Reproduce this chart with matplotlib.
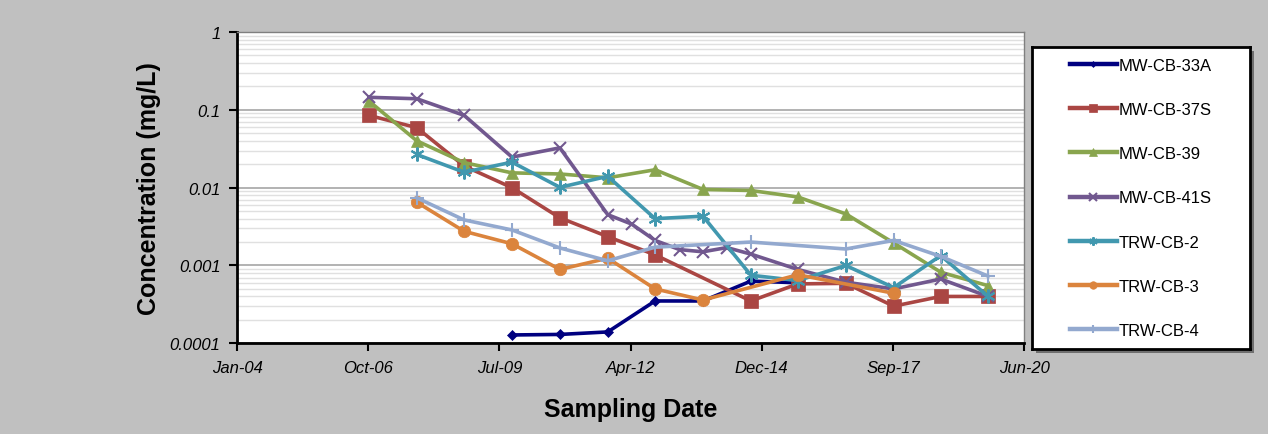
import matplotlib
matplotlib.use("Agg")
import matplotlib.pyplot as plt
import matplotlib.dates as mdates
import matplotlib.ticker as mticker
import pandas as pd
from matplotlib.patches import Rectangle

# sampling dates
d33a = ['2009-10-10', '2010-10-10', '2011-10-10', '2012-10-05', '2013-10-05', '2014-10-05', '2015-09-28']
v33a = [0.000128, 0.00013, 0.00014, 0.00035, 0.00035, 0.00063, 0.0006]

d37s = ['2006-10-15', '2007-10-15', '2008-10-10', '2009-10-10', '2010-10-10', '2011-10-10', '2012-10-05',
        '2014-10-05', '2015-09-28', '2016-09-28', '2017-09-28', '2018-09-22', '2019-09-18']
v37s = [0.085, 0.059, 0.019, 0.010, 0.0041, 0.00235, 0.00137, 0.00035, 0.00058, 0.00059, 0.0003, 0.0004, 0.0004]

d39 = ['2006-10-15', '2007-10-15', '2008-10-10', '2009-10-10', '2010-10-10', '2011-10-10', '2012-10-05',
       '2013-10-05', '2014-10-05', '2015-09-28', '2016-09-28', '2017-09-28', '2018-09-22', '2019-09-18']
v39 = [0.13, 0.04, 0.021, 0.0155, 0.015, 0.0134, 0.017, 0.0095, 0.0092, 0.0076, 0.0046, 0.00195, 0.00082, 0.00055]

d41s = ['2006-10-15', '2007-10-15', '2008-10-10', '2009-10-10', '2010-10-10', '2011-10-10', '2012-04-10',
        '2012-10-05', '2013-04-10', '2013-10-05', '2014-04-05', '2014-10-05', '2015-09-28', '2016-09-28',
        '2017-09-28', '2018-09-22', '2019-09-18']
v41s = [0.145, 0.139, 0.085, 0.0247, 0.0325, 0.0045, 0.0034, 0.0021, 0.0016, 0.0015, 0.0017, 0.0014,
        0.00089, 0.00061, 0.0005, 0.00067, 0.0004]

dcb2 = ['2007-10-15', '2008-10-10', '2009-10-10', '2010-10-10', '2011-10-10', '2012-10-05', '2013-10-05',
        '2014-10-05', '2015-09-28', '2016-09-28', '2017-09-28', '2018-09-22', '2019-09-18']
vcb2 = [0.0267, 0.0158, 0.0213, 0.0101, 0.014, 0.004, 0.0043, 0.00075, 0.00064, 0.001, 0.00052, 0.00134, 0.0004]

dcb3 = ['2007-10-15', '2008-10-10', '2009-10-10', '2010-10-10', '2011-10-10', '2012-10-05', '2013-10-05',
        '2015-09-28', '2017-09-28']
vcb3 = [0.0065, 0.00275, 0.0019, 0.00089, 0.00124, 0.0005, 0.00036, 0.00076, 0.00044]

dcb4 = ['2007-10-15', '2008-10-10', '2009-10-10', '2010-10-10', '2011-10-10', '2012-10-05', '2014-10-05',
        '2016-09-28', '2017-09-28', '2018-09-22', '2019-09-18']
vcb4 = [0.0074, 0.00385, 0.00286, 0.00168, 0.00115, 0.00172, 0.002, 0.00163, 0.0021, 0.00131, 0.00073]

names = ['MW-CB-33A', 'MW-CB-37S', 'MW-CB-39', 'MW-CB-41S', 'TRW-CB-2', 'TRW-CB-3', 'TRW-CB-4']
dates = [d33a, d37s, d39, d41s, dcb2, dcb3, dcb4]
values = [v33a, v37s, v39, v41s, vcb2, vcb3, vcb4]
colors = ['#000080', '#AA4643', '#89A54E', '#71588F', '#4198AF', '#DB843D', '#93A9CF']
markers = ['D', 's', '^', 'x', (6, 2, 0), 'o', '+']
msizes = [5, 10, 9, 9, 10, 9, 10]

fam = ['Liberation Sans', 'DejaVu Sans']
bg = '#c0c0c0'

fig = plt.figure(figsize=(12.68, 4.35), dpi=100, facecolor=bg)
ax = fig.add_axes([0.187, 0.2085, 0.6206, 0.7155])
ax.set_facecolor('white')

for n, d, v, c, m, s in zip(names, dates, values, colors, markers, msizes):
    ax.plot(pd.to_datetime(d), v, color=c, marker=m, markersize=s, lw=2.6,
            markeredgewidth=1.5 if m in ['x', '+', (6, 2, 0)] else 0.5,
            markeredgecolor=c, label=n)

ax.set_yscale('log')
ax.set_ylim(0.0001, 1)
ax.set_yticks([0.0001, 0.001, 0.01, 0.1, 1])
ax.yaxis.set_major_formatter(mticker.FuncFormatter(lambda x, p: '%g' % x))
ax.yaxis.set_minor_locator(mticker.LogLocator(base=10, subs=range(2, 10)))
ax.yaxis.set_minor_formatter(mticker.NullFormatter())
ax.tick_params(axis='y', which='minor', length=0)

x0 = pd.Timestamp('2004-01-14')
xt = [x0 + pd.Timedelta(days=1000 * k) for k in range(7)]
ax.set_xlim(xt[0], xt[-1])
ax.set_xticks(xt)
ax.xaxis.set_major_formatter(mdates.DateFormatter('%b-%y'))

ax.grid(True, which='major', axis='y', color='#a6a6a6', lw=1.2)
ax.grid(True, which='minor', axis='y', color='#e0e0e0', lw=1.0)
ax.set_axisbelow(True)

for sp in ['left', 'bottom']:
    ax.spines[sp].set_linewidth(2)
    ax.spines[sp].set_color('black')
for sp in ['top', 'right']:
    ax.spines[sp].set_linewidth(1)
    ax.spines[sp].set_color('#808080')

ax.tick_params(axis='both', which='major', direction='out', length=6, width=1.5, pad=6)
for lb in ax.get_xticklabels() + ax.get_yticklabels():
    lb.set_fontstyle('italic')
    lb.set_family(fam)
    lb.set_fontsize(12)

ax.set_ylabel('Concentration (mg/L)', fontsize=18, fontweight='bold', family=fam, labelpad=6)
ax.set_xlabel('Sampling Date', fontsize=18, fontweight='bold', family=fam, labelpad=16)

# legend box with shadow
lx, ly, lw, lh = 1032 / 1268, 1 - 350 / 435, 218 / 1268, 302 / 435
shadow = Rectangle((lx + 0.003, ly - 0.009), lw, lh, transform=fig.transFigure,
                   facecolor='#6f6f6f', edgecolor='none', zorder=0)
fig.patches.append(shadow)
lax = fig.add_axes([lx, ly, lw, lh])
lax.set_zorder(2)
lax.set_facecolor('white')
lax.set_xticks([])
lax.set_yticks([])
for sp in lax.spines.values():
    sp.set_linewidth(2)
    sp.set_color('black')
h, l = ax.get_legend_handles_labels()
leg = lax.legend(h, l, loc='center', frameon=False, handlelength=2.8,
                 handletextpad=0.15, labelspacing=1.75, markerscale=0.6,
                 prop={'family': fam, 'size': 12})
for ln in leg.get_lines():
    ln.set_linewidth(3.2)

fig.savefig('out.png', dpi=100, facecolor=bg)
